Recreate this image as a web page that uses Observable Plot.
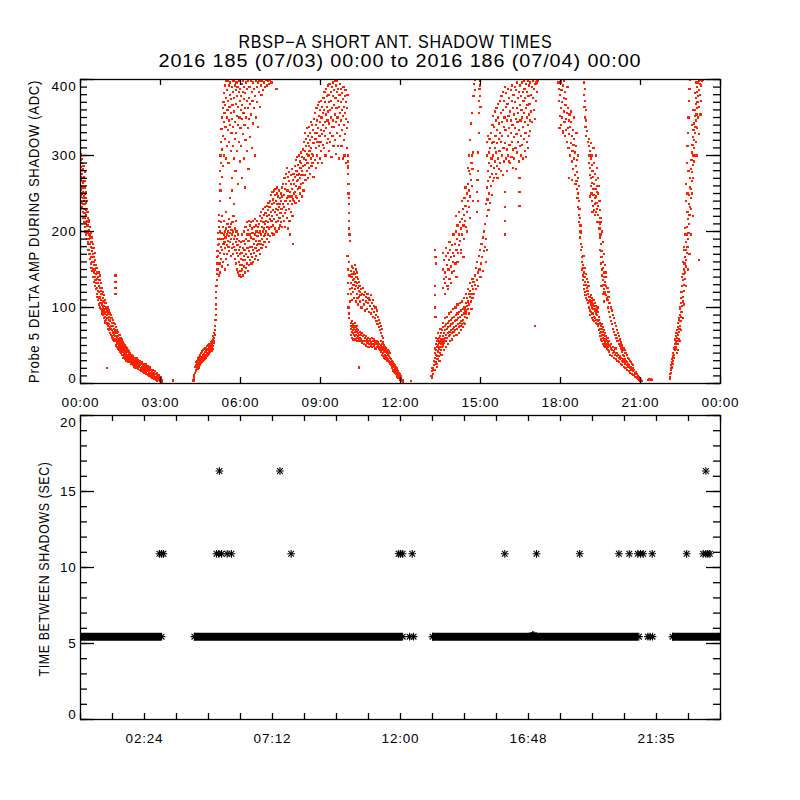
<!DOCTYPE html>
<html><head><meta charset="utf-8">
<script src="https://cdn.jsdelivr.net/npm/d3@7"></script>
<script src="https://cdn.jsdelivr.net/npm/@observablehq/plot@0.6"></script>
<style>
html,body{margin:0;padding:0;background:#fff;overflow:hidden;}
#wrap{position:relative;width:800px;height:800px;overflow:hidden;}
#wrap svg{position:absolute;left:0;}
#wrap svg text{letter-spacing:0.8px;}
</style></head><body><div id="wrap"></div>
<script>
// ---------- Title texts ----------
const titleLine1 = "RBSP\u2212A SHORT ANT. SHADOW TIMES";
const titleLine2 = "2016 185 (07/03) 00:00 to 2016 186 (07/04) 00:00";
const topYTitle = "Probe 5 DELTA AMP DURING SHADOW (ADC)";
const bottomYTitle = "TIME BETWEEN SHADOWS (SEC)";

// ---------- Top panel: delta amplitude during shadow, [hour, ADC] ----------
const ampMorningDescent = [[0.00,300],[0.00,268],[0.01,310],[0.01,285],[0.01,255],[0.02,294],[0.02,272],[0.02,246],[0.03,302],[0.03,260],[0.04,281],[0.04,238],[0.05,290],[0.05,266],[0.05,250],[0.06,276],[0.06,232],[0.07,295],[0.07,258],[0.08,244],[0.08,270],[0.09,282],[0.09,226],[0.10,252],[0.10,236],[0.10,264],
[0.11,286],[0.11,218],[0.12,246],[0.12,272],[0.13,230],[0.13,258],[0.14,212],[0.14,240],[0.15,266],[0.15,224],[0.16,250],[0.16,206],[0.17,236],[0.17,278],[0.18,218],[0.18,258],[0.19,244],[0.19,200],[0.20,228],[0.20,212],[0.21,252],[0.21,238],[0.22,196],[0.22,222],[0.23,208],[0.23,240],[0.24,190],[0.24,230],[0.25,214],[0.25,200],
[0.26,226],[0.27,186],[0.27,208],[0.28,218],[0.28,176],[0.29,198],[0.30,212],[0.30,184],[0.31,170],[0.31,202],[0.32,190],[0.33,215],[0.33,176],[0.34,196],[0.35,164],[0.35,184],[0.36,206],[0.37,170],[0.37,192],[0.38,158],[0.39,180],[0.39,198],[0.40,166],[0.41,186],[0.41,152],[0.42,174],[0.43,192],[0.43,160],[0.44,148],[0.45,178],[0.45,166],
[0.46,184],[0.47,150],[0.47,170],[0.48,140],[0.49,160],[0.49,178],[0.50,146],[0.51,166],[0.51,134],[0.52,156],[0.53,172],[0.53,140],[0.54,128],[0.55,150],[0.55,162],[0.56,136],[0.57,156],[0.58,124],[0.58,144],[0.59,132],[0.60,152],[0.61,118],[0.61,138],[0.62,126],[0.63,146],[0.64,114],[0.64,132],[0.65,122],
[0.66,140],[0.67,110],[0.68,128],[0.68,146],[0.69,104],[0.70,120],[0.71,136],[0.71,112],[0.72,100],[0.73,126],[0.74,114],[0.74,142],[0.75,106],[0.76,122],[0.77,98],[0.77,132],[0.78,110],[0.79,118],[0.80,96],[0.80,104],[0.81,126],[0.82,92],[0.83,112],[0.83,100],[0.84,120],[0.85,90],
[0.86,108],[0.87,96],[0.88,116],[0.88,86],[0.89,102],[0.90,92],[0.91,110],[0.91,82],[0.92,98],[0.93,88],[0.94,106],[0.94,80],[0.95,94],[0.96,84],[0.97,100],[0.98,20],[0.98,90],[0.99,78],[1.00,96],[1.01,86],[1.02,76],[1.03,92],[1.04,80],[1.05,72],
[1.06,88],[1.07,78],[1.08,70],[1.09,84],[1.10,74],[1.11,66],[1.12,82],[1.13,72],[1.14,64],[1.15,86],[1.16,76],[1.17,62],[1.18,70],[1.19,80],[1.20,60],[1.21,68],[1.22,76],[1.23,58],[1.24,66],[1.25,72],[1.26,56],[1.27,64],[1.28,70],[1.29,58],[1.30,62],
[1.31,142],[1.31,134],[1.31,126],[1.31,118],
[1.31,68],[1.32,56],[1.33,62],[1.34,50],[1.35,66],[1.36,54],[1.37,60],[1.38,48],[1.39,58],[1.40,52],[1.41,62],[1.42,46],[1.43,55],[1.44,50],[1.45,44],[1.46,58],[1.47,48],[1.48,42],[1.49,52],[1.50,46],[1.51,40],[1.52,50],[1.53,44],[1.54,54],[1.55,42],[1.56,48],[1.57,38],[1.58,46],[1.59,41],[1.60,50],
[1.61,44],[1.62,39],[1.63,36],[1.64,45],[1.65,40],[1.66,34],[1.67,42],[1.68,37],[1.69,46],[1.70,33],[1.71,40],[1.72,36],[1.73,43],[1.74,31],[1.75,38],[1.76,34],[1.77,41],[1.78,30],[1.79,36],[1.80,33],[1.81,39],[1.82,29],[1.83,35],[1.84,31],[1.85,38],[1.86,28],[1.87,34],[1.88,30],[1.89,36],[1.90,27],[1.91,32],[1.92,29],[1.93,34],[1.94,26],[1.95,31],[1.96,28],[1.97,33],[1.98,25],[1.99,30],[2.00,27],
[2.02,32],[2.03,24],[2.05,29],[2.06,26],[2.08,22],[2.09,30],[2.11,25],[2.12,21],[2.14,28],[2.15,23],[2.17,19],[2.18,26],[2.20,22],[2.21,28],[2.23,18],[2.24,24],[2.26,20],[2.27,26],[2.29,17],[2.30,22],[2.32,19],[2.33,25],[2.35,16],[2.36,21],[2.38,18],[2.39,23],[2.41,15],[2.42,20],[2.44,17],[2.45,22],[2.47,14],[2.48,19],[2.50,16],
[2.52,20],[2.54,13],[2.56,17],[2.58,15],[2.60,12],[2.62,18],[2.64,14],[2.66,11],[2.68,16],[2.70,12],[2.72,9],[2.74,14],[2.76,11],[2.78,8],[2.80,12],[2.82,9],[2.84,7],[2.86,11],[2.88,8],[2.90,6],[2.92,9],[2.94,5],[2.96,7],[2.98,4],[3.00,6],[3.02,3],[3.04,4],[3.06,2],[3.48,4]];

const ampMorningDescentEdge = [[1.02,100],[1.06,96],[1.10,92],[1.14,90],[1.18,86],[1.22,84],[1.26,80],[1.30,78],[1.34,74],[1.38,70],[1.42,68],[1.46,64],[1.50,60],[1.54,58],[1.58,55],[1.62,52],[1.66,50],[1.70,48],[1.74,46],[1.78,44],[1.82,42],[1.86,40],[1.90,38],[1.94,37],[1.98,36],
[1.60,34],[1.66,32],[1.72,30],[1.80,28],[1.88,26],[1.96,24],
[2.02,22],[2.06,21],[2.10,20],[2.16,19],[2.22,18],[2.28,17],[2.34,15],[2.40,14],[2.46,13],[2.52,11],[2.58,10],[2.64,9],[2.70,7],[2.76,6],[2.82,5],[2.88,4],
[2.04,34],[2.10,33],[2.16,31],[2.22,30],[2.30,28],[2.38,26],[2.46,25],[2.54,23],[2.62,21],[2.70,18],[2.78,16],[2.86,14],[2.94,11],[3.00,9]];

const ampMorningRise = [[4.24,4],[4.25,8],[4.26,6],[4.27,11],
[4.30,14],[4.31,22],[4.32,18],[4.33,28],[4.34,16],[4.35,24],[4.36,20],[4.37,30],[4.38,26],[4.39,19],[4.40,33],[4.41,23],[4.42,28],[4.43,21],[4.44,35],[4.45,26],[4.46,31],[4.47,24],[4.48,37],[4.49,29],[4.50,33],[4.51,27],[4.52,40],[4.53,30],[4.54,35],[4.55,28],[4.56,42],[4.57,32],[4.58,38],[4.59,30],[4.60,44],[4.61,34],[4.62,39],[4.63,31],[4.64,45],[4.65,36],[4.66,41],[4.67,33],[4.68,47],[4.69,37],[4.70,42],[4.71,34],[4.72,46],[4.73,39],[4.74,44],[4.75,36],[4.76,49],[4.77,40],[4.78,45],[4.79,37],[4.80,50],[4.81,42],[4.82,47],[4.83,39],[4.84,52],[4.85,44],[4.86,48],[4.87,41],[4.88,54],[4.89,45],[4.90,50],[4.91,43],[4.92,56],[4.93,47],[4.94,52],[4.95,45],[4.96,58],[4.97,49],[4.98,62],[4.99,53],[5.00,60],[5.01,66],[5.02,56],[5.03,64],[5.04,70],[5.05,76],[5.06,84],[5.07,90],[5.07,98],[5.08,104],[5.09,112],[5.09,120],[5.10,128],[5.11,136],[5.11,144],[5.12,150],[5.13,158],[5.13,166],[5.14,174],[5.15,182],[5.16,190],[5.17,198],[5.18,206],[5.19,214],[5.20,222]];

const ampUpperMorning = [[5.22,240],[5.23,262],[5.24,280],[5.25,300],[5.25,254],[5.27,318],[5.28,290],[5.29,335],[5.30,272],[5.31,350],[5.32,308],[5.33,362],[5.34,326],[5.35,286],[5.36,370],[5.37,344],[5.38,300],[5.39,382],[5.40,356],[5.41,322],[5.42,392],[5.43,366],[5.44,338],[5.45,296],[5.46,398],[5.47,376],[5.48,350],[5.49,312],[5.50,386],[5.51,360],[5.52,334],[5.53,398],[5.54,372],[5.55,290],[5.56,346],[5.57,392],[5.58,318],[5.59,364],[5.60,380],[5.61,340],[5.62,396],[5.63,306],[5.64,356],[5.65,374],[5.66,330],[5.67,390],[5.68,270],[5.69,348],[5.70,366],[5.71,312],[5.72,384],[5.73,338],[5.74,398],[5.75,296],[5.76,358],[5.77,376],[5.78,322],[5.79,392],[5.80,344],[5.81,280],[5.82,368],[5.83,386],[5.84,330],[5.85,396],[5.86,352],[5.87,306],[5.88,378],[5.89,390],[5.90,340],[5.91,262],[5.92,364],[5.93,384],[5.94,318],[5.95,398],[5.96,350],[5.97,372],[5.98,292],[5.99,388],[6.00,336],[6.01,360],[6.02,378],[6.03,312],[6.04,394],[6.05,348],[6.06,270],[6.07,366],[6.08,384],[6.09,328],[6.10,398],[6.11,356],[6.12,296],[6.13,374],[6.14,390],[6.15,340],[6.16,258],[6.17,362],[6.18,382],[6.19,320],[6.20,396],[6.22,350],[6.23,372],[6.24,306],[6.25,388],[6.27,336],[6.28,362],[6.29,398],[6.30,282],[6.32,376],[6.33,348],[6.34,390],[6.36,324],[6.37,368],[6.38,398],[6.40,354],[6.42,384],[6.43,310],[6.45,372],[6.46,396],[6.48,342],[6.50,388],[6.52,362],[6.53,300],[6.55,378],[6.57,398],[6.59,350],[6.61,390],[6.63,370],[6.65,396],[6.67,338],[6.69,384],[6.71,398],[6.73,364],[6.76,392],[6.79,380],[6.82,398],[6.85,386],[6.88,396],[6.92,390],[6.96,399],[7.00,392],[7.04,398],[7.08,394],[7.12,399],[7.16,396],[7.35,388]];

const ampMidMorning = [[5.15,150],[5.17,168],[5.18,142],[5.20,184],[5.21,158],[5.22,200],[5.23,172],[5.24,146],[5.25,190],[5.26,212],[5.27,164],[5.28,180],[5.29,198],[5.30,154],[5.31,220],[5.32,176],[5.33,190],[5.34,206],[5.35,160],[5.36,184],[5.37,196],[5.38,170],[5.39,214],[5.40,186],[5.41,150],[5.42,200],[5.43,178],[5.44,192],[5.45,226],[5.46,164],[5.47,204],[5.48,182],[5.49,196],[5.50,170],[5.51,210],[5.52,188],[5.53,156],[5.54,200],[5.55,180],[5.56,194],[5.57,216],[5.58,174],[5.59,206],[5.60,186],[5.61,198],[5.62,244],[5.63,168],[5.64,210],[5.65,190],[5.66,202],[5.67,178],[5.68,254],[5.69,196],[5.70,212],[5.71,184],[5.72,200],[5.73,170],[5.74,220],[5.75,190],[5.76,236],[5.77,180],[5.78,204],[5.79,164],[5.80,194],[5.81,176],[5.82,214],[5.83,186],[5.84,158],[5.85,200],[5.86,172],[5.87,190],[5.88,150],[5.89,182],[5.90,168],[5.91,196],[5.92,146],[5.93,176],[5.94,160],[5.95,188],[5.96,142],[5.97,170],[5.98,156],[5.99,180],[6.00,148],[6.01,164],[6.02,186],[6.03,140],[6.04,172],[6.05,156],[6.06,196],[6.07,150],[6.08,178],[6.09,162],[6.10,142],[6.11,188],[6.12,168],[6.13,154],[6.14,200],[6.15,176],[6.16,146],[6.17,184],[6.18,162],[6.19,206],[6.20,152],[6.21,190],[6.22,170],[6.23,212],[6.24,158],[6.25,196],[6.26,178],[6.27,148],[6.28,202],[6.29,166],[6.30,188],[6.31,214],[6.32,174],[6.33,156],[6.34,196],[6.35,208],[6.36,180],[6.37,162]];

const ampDayRise = [[6.38,212],[6.39,170],[6.40,192],[6.41,158],[6.42,204],[6.43,180],[6.44,166],[6.45,198],[6.46,214],[6.47,176],[6.48,160],[6.49,190],[6.50,206],[6.51,172],[6.52,184],[6.53,216],[6.54,164],[6.55,196],[6.56,178],[6.57,208],[6.58,188],[6.59,168],[6.60,200],[6.61,182],[6.62,214],[6.63,174],[6.64,194],[6.65,206],[6.66,184],[6.67,162],[6.68,198],[6.69,176],[6.70,210],[6.71,188],[6.72,220],[6.73,170],[6.74,200],
[6.75,184],[6.76,214],[6.77,196],[6.78,226],[6.79,178],[6.80,206],[6.81,190],[6.82,218],[6.83,200],[6.84,230],[6.85,182],[6.86,212],[6.87,194],[6.88,222],[6.89,204],[6.90,186],[6.91,232],[6.92,210],[6.93,196],[6.94,224],[6.95,180],[6.96,214],[6.97,200],[6.98,234],[6.99,190],[7.00,220],[7.01,206],[7.02,228],[7.03,196],[7.04,212],[7.05,238],[7.06,186],[7.07,222],[7.08,204],[7.09,232],[7.10,216],[7.11,194],[7.12,240],
[7.13,206],[7.14,226],[7.15,248],[7.16,214],[7.17,198],[7.18,236],[7.19,220],[7.20,252],[7.21,208],[7.22,242],[7.23,228],[7.24,196],[7.25,254],[7.26,216],[7.27,238],[7.28,204],[7.29,248],[7.30,226],[7.31,256],[7.32,212],[7.33,240],[7.34,230],[7.35,200],[7.36,250],[7.37,222],[7.38,258],[7.39,236],[7.40,214],[7.41,246],[7.42,228],[7.43,204],[7.44,254],[7.45,232],[7.46,218],[7.47,244],[7.48,208],[7.49,236],[7.50,224],[7.51,250],[7.52,212],[7.53,240],[7.54,230],[7.55,258],[7.56,206],[7.57,246],[7.58,220],[7.59,236],[7.60,262],
[7.62,214],[7.63,248],[7.64,232],[7.65,270],[7.66,224],[7.67,256],[7.68,206],[7.69,240],[7.70,276],[7.71,228],[7.72,262],[7.73,244],[7.74,284],[7.75,218],[7.76,254],[7.77,236],[7.78,272],[7.79,204],[7.80,246],[7.81,266],[7.82,230],[7.83,278],[7.84,214],[7.85,252],[7.86,240],[7.87,196],[7.88,262],[7.89,226],[7.90,274],[7.91,246],[7.92,236],[7.93,282],[7.94,256],[7.95,220],[7.96,268],[7.97,242],[7.98,184],[7.99,276],[8.00,250],
[8.01,262],[8.02,240],[8.03,286],[8.04,252],[8.05,272],[8.06,238],[8.07,294],[8.08,260],[8.09,246],[8.10,280],[8.11,266],[8.12,298],[8.13,244],[8.14,274],[8.15,256],[8.16,288],[8.17,268],[8.18,240],[8.19,300],[8.20,276],[8.21,258],[8.22,292],[8.23,270],[8.24,250],[8.25,284],[8.26,304],[8.27,262],[8.28,290],[8.29,274],[8.30,246],[8.31,298],[8.32,280],[8.33,264],[8.34,308],[8.35,286],[8.36,254],
[8.38,296],[8.39,318],[8.40,274],[8.41,306],[8.42,288],[8.43,330],[8.44,268],[8.45,312],[8.46,294],[8.47,322],[8.48,280],[8.49,302],[8.50,336],[8.51,290],[8.52,316],[8.53,270],[8.54,326],[8.55,300],[8.56,312],[8.57,284],[8.58,338],[8.59,306],[8.60,320],[8.61,276],[8.62,330],[8.63,296],[8.64,344],[8.65,310],[8.66,286],[8.67,324],[8.68,302],[8.69,340],[8.70,290],[8.71,316],[8.72,334],[8.73,300],[8.74,272],
[8.76,348],[8.77,316],[8.78,330],[8.79,294],[8.80,356],[8.81,322],[8.82,340],[8.83,284],[8.84,310],[8.85,362],[8.86,330],[8.87,300],[8.88,346],[8.89,318],[8.90,366],[8.91,290],[8.92,336],[8.93,352],[8.94,312],[8.95,370],[8.96,326],[8.97,296],[8.98,344],[8.99,360],[9.00,318],[9.01,334],[9.02,372],[9.03,306],[9.04,350],[9.05,328],[9.06,364],[9.07,290],[9.08,340],[9.09,356],[9.10,314],[9.11,376],[9.12,332],
[9.13,360],[9.14,310],[9.15,384],[9.16,344],[9.17,326],[9.18,370],[9.19,300],[9.20,354],[9.21,388],[9.22,336],[9.23,364],[9.24,316],[9.25,378],[9.26,346],[9.27,392],[9.28,322],[9.29,358],[9.30,380],[9.31,306],[9.32,342],[9.33,370],[9.34,394],[9.35,330],[9.36,360],[9.37,318],[9.38,384],[9.39,350],[9.40,372],[9.41,298],[9.42,338],[9.43,390],[9.44,362],[9.45,326],[9.46,378],[9.47,346],[9.48,396],[9.49,312],
[9.50,366],[9.51,386],[9.52,338],[9.53,398],[9.54,354],[9.55,320],[9.56,376],[9.57,344],[9.58,392],[9.59,302],[9.60,362],[9.61,384],[9.62,330],[9.63,398],[9.64,350],[9.65,372],[9.66,312],[9.67,388],[9.68,340],[9.69,364],[9.70,296],[9.71,380],[9.72,356],[9.73,394],[9.74,326],
[9.76,370],[9.77,346],[9.78,388],[9.79,312],[9.80,360],[9.81,382],[9.82,334],[9.83,296],[9.84,374],[9.85,352],[9.86,390],[9.87,320],[9.88,364],[9.89,340],[9.90,300],[9.91,378],[9.92,356],[9.93,328],[9.94,386],[9.95,348],[9.96,290],[9.97,370],[9.98,336],[9.99,362],[10.00,310],[10.01,380],[10.02,344],[10.03,284],
[10.02,300],[10.03,292],[10.04,276],[10.05,262],[10.05,250],[10.06,236],[10.07,224],[10.07,214],[10.08,204],[10.09,196],[10.10,188],[10.04,286],[10.06,244]];

const ampNoonDrop = [[10.01,168],[10.02,150],[10.03,132],[10.04,118],[10.05,100],[10.06,92],[10.07,86],[10.08,160],[10.09,142],[10.10,124],[10.11,108],
[10.13,148],[10.14,132],[10.15,118],[10.16,140],[10.17,154],[10.18,126],[10.19,110],[10.20,144],[10.21,136],[10.22,152],[10.23,120],[10.24,130],[10.25,146],[10.26,112],[10.27,138],[10.28,156],[10.29,124],[10.30,144],[10.31,134],[10.32,108],[10.33,150],[10.34,128],[10.35,140],[10.36,118],[10.37,132],[10.38,146],[10.39,112],[10.40,126],[10.41,138],[10.42,104],[10.43,122],[10.44,134],[10.45,114],[10.46,128],[10.47,108],[10.48,120],[10.50,116],[10.52,124],[10.54,100],[10.56,118],[10.58,110],[10.60,126],[10.62,104],[10.64,116],[10.66,96],[10.68,120],[10.70,108],[10.72,114],[10.74,98],[10.76,118],[10.78,106],[10.80,112],[10.82,94],[10.84,110],[10.86,102],[10.88,116],[10.90,92],[10.92,106],[10.94,98],[10.96,110],[10.98,88],[11.00,102],[11.02,94],[11.04,86],[11.06,100],[11.08,90],[11.10,82],[11.12,96],[11.14,78],[11.16,88],[11.18,74],[11.20,84],[11.22,70],[11.24,80],[11.26,66],[11.28,76],[11.30,62],[11.32,72],[11.34,60],
[10.13,80],[10.14,72],[10.15,64],[10.16,76],[10.17,82],[10.18,68],[10.19,60],[10.20,74],[10.21,78],[10.22,66],[10.23,70],[10.24,58],[10.25,76],[10.26,64],[10.27,72],[10.28,80],[10.29,62],[10.30,68],[10.31,74],[10.32,58],[10.33,70],[10.34,64],[10.35,76],[10.36,60],[10.37,68],[10.38,72],[10.39,56],[10.40,66],[10.41,62],[10.42,70],[10.43,58],[10.44,21],[10.45,64],[10.46,60],[10.47,68],[10.48,56],[10.50,64],[10.52,58],[10.54,66],[10.56,54],[10.58,62],[10.60,56],[10.62,64],[10.64,52],[10.66,60],[10.68,56],[10.70,62],[10.72,50],[10.74,58],[10.76,54],[10.78,60],[10.80,48],[10.82,56],[10.84,52],[10.86,58],[10.88,50],[10.90,54],[10.92,60],[10.94,48],[10.96,56],[10.98,52],[11.00,58],[11.02,50],[11.04,54],[11.06,46],[11.08,52],[11.10,56],[11.12,48],[11.14,54],[11.16,50],[11.18,46],[11.20,52],[11.22,48],[11.24,44],
[11.26,50],[11.27,42],[11.28,56],[11.29,46],[11.30,38],[11.31,52],[11.32,44],[11.33,48],[11.34,40],[11.35,54],[11.36,36],[11.37,46],[11.38,42],[11.39,50],[11.40,34],[11.41,44],[11.42,38],[11.43,48],[11.44,32],[11.45,42],[11.46,36],[11.47,46],[11.48,30],[11.49,40],[11.50,34],[11.51,44],[11.52,30],[11.53,38],[11.54,32],[11.55,42],[11.56,28],[11.57,36],[11.58,30],[11.59,40],[11.60,26],[11.61,34],[11.62,28],
[11.64,32],[11.65,24],[11.66,28],[11.67,22],[11.68,30],[11.69,20],[11.70,26],[11.71,18],[11.72,24],[11.73,28],[11.74,16],[11.75,22],[11.76,26],[11.77,15],[11.78,20],[11.79,24],[11.80,14],[11.81,18],[11.82,22],[11.83,12],[11.84,17],[11.85,20],[11.86,11],[11.87,15],[11.88,18],[11.89,9],[11.90,13],[11.91,16],[11.92,8],[11.93,12],[11.94,14],[11.95,7],[11.96,10],[11.97,12],[11.98,5],[11.99,8],[12.00,10],[12.01,4],[12.02,6],[12.03,8],[12.05,3],[12.07,5],[12.09,2],[12.10,4],[12.40,3]];

const ampAfternoonRise = [[13.16,10],[13.18,16],[13.19,8],[13.20,20],[13.22,12],[13.24,18],
[13.26,30],[13.27,24],[13.28,40],[13.29,34],[13.30,46],[13.31,28],[13.32,52],[13.33,38],[13.34,44],[13.35,26],[13.36,56],[13.37,36],[13.38,48],[13.39,32],[13.40,58],[13.41,42],[13.42,50],[13.43,36],[13.44,60],[13.45,46],[13.46,54],[13.47,40],[13.48,62],[13.49,48],[13.50,56],[13.51,44],[13.52,66],[13.53,52],[13.54,58],[13.55,48],[13.56,70],[13.57,54],[13.58,62],[13.59,50],[13.60,74],[13.62,58],[13.63,66],[13.64,54],[13.66,76],[13.67,60],[13.68,70],[13.70,56],[13.71,78],[13.72,64],[13.74,72],[13.75,60],[13.77,80],[13.78,66],[13.79,74],[13.81,62],[13.82,82],[13.84,68],[13.85,76],[13.87,64],[13.88,84],[13.90,70],[13.91,78],[13.93,66],[13.94,86],[13.96,72],[13.97,80],[13.99,68],[14.00,88],[14.02,74],[14.04,82],[14.05,70],[14.07,90],[14.09,76],[14.10,84],[14.12,72],[14.14,92],[14.15,78],[14.17,86],[14.19,74],[14.20,94],[14.22,80],[14.24,88],[14.25,76],[14.27,96],[14.29,82],[14.30,90],[14.32,78],[14.34,98],[14.35,84],[14.37,92],[14.39,80],[14.40,100],[14.42,88],[14.44,96],[14.45,106],[14.47,92],[14.49,102],[14.50,112],[14.52,98],[14.54,108],[14.56,118],[14.58,104],[14.60,114],[14.62,122],[14.64,108],[14.66,118],[14.68,128],[14.70,112],[14.72,124],[14.74,134],
[14.76,118],[14.78,130],[14.80,142],[14.82,124],[14.84,152],[14.86,136],[14.88,160],[14.90,146],[14.92,128],[14.94,168],[14.96,150],[14.98,176],[15.00,140],[15.02,158],[15.04,184],[15.06,166],[15.08,192],[15.10,148],[15.12,174],[15.14,200],[15.16,180],[15.18,210],[15.20,160],[15.22,190],[15.24,220],[15.25,176],
[14.86,226],[14.88,252],[14.90,280],[14.92,304],[14.93,330],[14.94,356],[14.95,372],[14.96,388],[14.97,398],[14.98,392],[14.99,378],[15.00,364],[14.91,240],[14.89,268]];

const ampAfternoonRiseEdge = [[13.30,18],[13.34,60],[13.38,22],[13.42,66],[13.46,30],[13.50,72],[13.54,38],[13.58,80],[13.62,44],[13.66,86],[13.70,48],[13.74,88],[13.78,52],[13.82,92],[13.86,56],[13.90,94],[13.94,58],[13.98,98],[14.02,62],[14.06,100],[14.10,64],[14.14,104],[14.18,66],[14.22,106],[14.26,70],[14.30,108],[14.34,74],[14.38,112],[14.42,78],[14.46,118],[14.50,86],[14.54,124],[14.58,92],[14.62,132],[14.66,98],[14.70,138]];

const ampAfternoonUpper = [[13.30,176],[13.31,166],[13.32,158],[13.28,128],[13.29,116],[13.30,100],[13.31,88],
[13.58,126],[13.60,150],[13.62,138],[13.64,162],[13.66,132],[13.68,146],[13.70,168],[13.72,140],[13.74,156],[13.76,128],[13.78,172],[13.80,150],[13.82,162],[13.84,138],[13.86,176],[13.88,154],[13.90,166],[13.92,146],[13.94,182],[13.96,160],[13.98,172],[14.00,196],[14.02,168],[14.04,184],[14.06,158],[14.08,200],[14.10,176],[14.12,190],[14.14,208],[14.16,172],[14.18,196],[14.20,182],[14.22,212],[14.24,188],[14.26,204],[14.28,176],[14.30,216],[14.32,196],[14.34,230],[14.36,208],[14.38,222],[14.40,244],[14.42,214],[14.44,234],[14.46,206],[14.48,250],[14.50,226],[14.52,240],[14.54,262],[14.56,232],[14.58,254],[14.60,276],[14.62,246],[14.64,268],[14.66,290],[14.68,260],[14.70,282],[14.60,320],[14.64,342],[14.68,356],[14.72,304],[14.74,378],[14.76,394],[14.78,400],[14.80,386]];

const ampAfternoonUpperEdge = [[13.60,172],[13.66,118],[13.72,178],[13.78,124],[13.84,186],[13.90,132],[13.96,196],[14.02,148],[14.08,220],[14.14,160],[14.20,226],[14.26,172],[14.32,240],[14.38,190],[14.44,258],[14.50,200],[14.56,280],[14.62,218],[14.68,300],[14.72,240],[14.10,140],[14.36,166],[14.56,300],[14.52,284]];

const ampAfternoonBlob = [[15.22,236],[15.23,300],[15.24,258],[15.25,318],[15.26,242],[15.27,280],[15.28,326],[15.29,266],[15.30,228],[15.31,304],[15.32,250],[15.33,290],[15.34,322],[15.35,272],[15.36,238],[15.37,310],[15.38,286],[15.39,260],[15.40,330],[15.41,296],[15.42,248],[15.43,316],[15.44,276],[15.45,340],
[15.46,300],[15.47,266],[15.48,352],[15.49,318],[15.50,284],[15.51,338],[15.52,270],[15.53,310],[15.54,358],[15.55,292],[15.56,326],[15.57,276],[15.58,346],[15.59,304],[15.60,362],[15.61,286],[15.62,334],[15.63,316],[15.64,270],[15.65,350],[15.66,296],[15.67,368],[15.68,322],[15.69,282],[15.70,342],[15.71,306],[15.72,372],[15.73,290],[15.74,330],
[15.76,356],[15.77,280],[15.78,318],[15.79,378],[15.80,300],[15.81,344],[15.82,326],[15.83,384],[15.84,274],[15.85,360],[15.86,310],[15.87,338],[15.88,292],[15.89,372],[15.90,350],[15.91,316],[15.92,390],[15.93,252],[15.93,232],[15.93,214],[15.93,196],[15.94,334],[15.95,296],[15.96,364],[15.97,382],[15.98,308],[15.99,346],[16.00,280],[16.01,368],[16.02,326],[16.03,388],[16.04,300],[16.05,352],[16.06,336],[16.07,292],[16.08,376],[16.09,314],
[16.11,358],[16.12,290],[16.13,386],[16.14,330],[16.15,346],[16.16,298],[16.17,372],[16.18,318],[16.19,392],[16.20,340],[16.21,284],[16.22,362],[16.23,308],[16.24,380],[16.25,324],[16.26,354],[16.27,296],[16.28,390],[16.29,336],[16.30,370],[16.31,310],[16.32,348],[16.33,386],[16.34,282],[16.35,328],[16.36,362],[16.37,396],[16.38,304],[16.39,344],[16.40,376],[16.41,318],[16.42,356],[16.43,292],[16.44,384],[16.45,334],[16.46,270],[16.46,252],[16.46,234],[16.47,366],[16.48,312],[16.49,392],
[16.50,346],[16.51,300],[16.52,378],[16.53,326],[16.54,360],[16.55,396],[16.56,314],[16.57,350],[16.58,384],[16.59,296],[16.60,338],[16.61,372],[16.62,398],[16.63,322],[16.64,356],[16.65,388],[16.66,306],[16.67,344],[16.68,376],[16.69,330],[16.70,394],[16.71,362],[16.72,298],[16.73,350],[16.74,384],[16.75,318],[16.76,366],[16.77,398],[16.78,340],[16.79,310],[16.80,378],[16.81,354],[16.82,392],[16.83,326],[16.84,368],[16.85,346],[16.86,396],[16.87,332],[16.88,380],
[16.90,358],[16.92,390],[16.94,344],[16.96,376],[16.98,398],[17.00,360],[17.02,388],[17.03,76],[17.04,348],[17.06,394],[17.08,372],[17.10,396],[17.12,384],[17.14,398]];

const ampEveningDescentA = [[17.92,396],[17.94,372],[17.95,388],[17.97,352],[17.98,380],[18.00,396],[18.01,362],[18.03,340],[18.04,386],[18.06,370],[18.07,350],[18.09,392],[18.10,332],[18.12,376],[18.13,358],[18.15,344],[18.16,384],[18.18,326],[18.19,366],[18.21,348],[18.22,374],[18.24,318],[18.25,356],[18.27,336],[18.28,362],[18.30,310],[18.31,346],[18.33,328],[18.34,354],[18.36,300],[18.37,338],[18.39,316],[18.40,344],[18.42,292],[18.43,326],[18.45,306],[18.46,334],[18.48,282],[18.49,314],[18.51,296],[18.52,322],[18.54,274],[18.55,304],[18.57,286],[18.58,312],[18.60,266],[18.61,294],[18.62,278],
[18.63,256],[18.64,244],[18.65,270],[18.66,232],[18.67,250],[18.68,222],[18.69,240],[18.70,212],[18.71,230],[18.72,200],[18.73,218],[18.74,192],[18.75,208],[18.76,184],[18.77,198],[18.78,176],
[18.80,160],[18.81,150],[18.82,166],[18.83,142],[18.84,156],[18.85,136],[18.86,152],[18.87,130],[18.88,146],[18.89,124],[18.90,140],[18.91,120],[18.92,134],[18.93,152],[18.94,116],[18.95,130],[18.96,144],[18.97,112],[18.98,126],[18.99,138],[19.00,110],[19.01,122],[19.02,134],[19.03,106],[19.04,118],[19.05,128],
[19.07,108],[19.08,100],[19.09,114],[19.10,96],[19.11,110],[19.12,90],[19.13,104],[19.14,116],[19.15,94],[19.16,108],[19.17,86],[19.18,100],[19.19,112],[19.20,92],[19.21,104],[19.22,84],[19.23,98],[19.24,110],[19.25,88],[19.26,102],[19.27,82],[19.28,96],[19.29,106],[19.30,86],[19.31,98],[19.32,80],[19.33,92],[19.34,102],[19.35,84],[19.36,96],[19.37,78],[19.38,90],[19.39,100],[19.40,82],[19.41,94],[19.42,76],[19.43,88],[19.44,70],[19.45,84],[19.46,78],[19.47,66],[19.48,80],[19.49,72],
[19.50,62],[19.51,76],[19.52,68],[19.53,58],[19.54,72],[19.55,64],[19.56,78],[19.57,56],[19.58,68],[19.59,60],[19.60,74],[19.61,52],[19.62,64],[19.63,58],[19.64,70],[19.65,50],[19.66,62],[19.67,54],[19.68,66],[19.69,48],[19.70,58],[19.71,52],[19.72,62],[19.73,46],[19.74,56],[19.75,50],[19.76,60],[19.77,44],[19.78,54],[19.79,48],[19.80,56],
[19.82,42],[19.84,50],[19.86,38],[19.88,46],[19.90,52],[19.92,36],[19.94,44],[19.96,40],[19.98,48],[20.00,34],[20.02,42],[20.04,38],[20.06,46],[20.08,32],[20.10,40],[20.12,36],[20.14,30],[20.16,38],[20.18,34],[20.20,28],[20.22,36],[20.24,32],[20.26,26],[20.28,34],[20.30,30],
[20.32,24],[20.34,32],[20.36,28],[20.38,22],[20.40,30],[20.42,26],[20.44,20],[20.46,28],[20.48,24],[20.50,18],[20.52,26],[20.54,22],[20.56,16],[20.58,24],[20.60,20],[20.62,14],[20.64,22],[20.66,18],[20.68,12],[20.70,20],[20.72,16],[20.74,11],[20.76,18],[20.78,14],[20.80,9],
[20.82,15],[20.84,12],[20.86,8],[20.88,13],[20.90,10],[20.92,6],[20.94,9],[20.96,5],[20.98,7],[21.00,4],[21.02,5],[21.04,3]];

const ampEveningDescentAEdge = [[17.96,336],[18.02,400],[18.08,330],[18.14,398],[18.20,334],[18.26,390],[18.32,270],[18.38,358],[18.44,268],[18.50,350],[18.56,262],[18.60,330],[18.66,300],[18.70,260],[18.74,230],[18.78,200],[18.82,180],[18.86,168]];

const ampEveningDescentB = [[18.88,396],[18.89,380],[18.90,364],[18.91,388],[18.92,350],[18.93,372],[18.94,338],[18.95,360],[18.96,326],[18.97,346],[19.00,332],[19.02,318],
[19.07,312],[19.08,290],[19.09,300],[19.10,274],[19.11,306],[19.12,284],[19.13,260],[19.14,296],[19.15,270],[19.16,250],[19.17,288],[19.18,264],[19.19,240],[19.20,280],[19.21,256],[19.22,234],[19.23,272],[19.24,248],[19.25,290],[19.26,228],[19.27,262],[19.28,244],[19.29,276],[19.30,236],[19.31,256],[19.32,226],[19.33,268],[19.34,246],[19.35,238],[19.36,260],[19.37,230],[19.38,252],[19.40,234],[19.42,222],[19.44,212],[19.46,204],[19.47,192],
[19.48,210],[19.49,176],[19.50,196],[19.51,166],[19.52,184],[19.53,158],[19.54,174],[19.55,150],[19.56,166],[19.57,142],[19.58,160],[19.59,136],[19.60,152],[19.61,130],[19.62,146],[19.63,124],[19.64,140],[19.65,120],[19.66,134],[19.67,118],[19.68,130],[19.69,146],[19.70,116],[19.72,128],[19.74,112],
[19.76,110],[19.78,100],[19.80,114],[19.82,94],[19.84,106],[19.86,88],[19.88,100],[19.90,82],[19.92,96],[19.94,78],[19.96,90],[19.98,72],[20.00,86],[20.02,68],[20.04,80],[20.06,64],[20.08,76],[20.10,60],[20.12,70],[20.14,56],[20.16,66],[20.18,52],[20.20,62],[20.22,50],
[20.24,58],[20.26,46],[20.28,54],[20.30,42],[20.32,50],[20.34,38],[20.36,46],[20.38,36],[20.40,44],[20.42,32],[20.44,40],[20.46,30],[20.48,38],[20.50,28],[20.52,34],[20.54,26],[20.56,32],[20.58,24],[20.60,30],[20.62,22],[20.64,28],[20.66,20],[20.68,26],[20.70,18],[20.72,24]];

const ampEveningDescentBEdge = [[19.08,322],[19.10,246],[19.14,316],[19.18,300],[19.20,226],[19.24,310],[19.28,222],[19.32,300],[19.36,284],[19.40,270],[19.44,260],[19.46,240],[19.48,228],[19.50,218],[19.42,250],[19.38,212],[19.52,212],[19.56,200],[19.60,186],[19.64,170],[19.68,156],[19.72,140],[19.76,126],[19.80,120],[19.54,128],[19.58,118],[19.62,108]];

const ampNight = [[21.30,5],[21.33,6],[21.36,5],[21.39,6],[21.42,5],
[22.10,6],[22.11,12],[22.12,9],[22.13,18],[22.14,14],[22.15,24],[22.16,20],[22.17,28],[22.18,22],[22.19,32],[22.20,26],[22.21,36],[22.22,30],[22.23,40],[22.24,34],
[22.26,46],[22.27,38],[22.28,52],[22.29,44],[22.30,58],[22.31,48],[22.32,62],[22.33,54],[22.34,46],[22.35,66],[22.36,56],[22.37,70],[22.38,60],[22.39,52],[22.40,74],[22.41,64],[22.42,80],[22.43,68],[22.44,58],[22.45,84],[22.46,72],[22.47,90],[22.48,76],[22.49,98],[22.50,82],[22.51,106],[22.52,88],[22.53,112],[22.54,94],[22.55,120],[22.56,102],[22.57,128],[22.58,108],[22.59,136],[22.60,114],[22.61,144],[22.62,122],[22.63,150],[22.64,130],[22.65,158],[22.66,138],[22.67,166],[22.68,146],[22.69,176],[22.70,154],[22.71,186],[22.72,162],[22.73,196],[22.74,172],[22.75,206],[22.76,180],[22.77,216],[22.78,190],[22.79,226],[22.80,198],[22.81,236],[22.82,210],[22.83,248],[22.84,222],[22.85,258],[22.86,232],[22.87,270],[22.88,244],[22.89,282],[22.90,256],[22.91,294],[22.92,266],[22.93,304],[22.94,278],[22.95,314],[22.96,288],[22.97,324],[22.98,300],[22.99,334],[23.00,310],[23.01,342],[23.02,320],[23.03,352],[23.04,330],[23.05,360],[23.06,338],[23.07,368],[23.08,346],[23.09,376],[23.10,354],[23.11,384],[23.12,362],[23.13,390],[23.14,370],[23.15,396],[23.16,378],[23.18,398],[23.20,162],[23.20,386],[23.22,394],[23.24,399],[23.27,392],[23.30,398],[23.33,400]];

const ampNightEdge = [[22.36,40],[22.40,44],[22.46,56],[22.52,70],[22.58,86],[22.64,104],[22.70,128],[22.78,150],[22.84,170],[22.88,196],[22.96,220],[22.62,180],[22.66,205],[22.70,240],[22.72,262],[22.74,290],[22.76,312],[22.78,330],[22.80,350],[22.82,372],[22.84,388],[22.86,400],[22.90,230],[22.94,250],[22.98,270],[23.02,292],[23.05,300],[23.08,318],[23.12,336],[23.16,350],[23.20,364],[23.24,380],[23.28,372],[23.25,354],[23.18,328],[23.10,300],[22.56,140],[22.60,160],[22.68,196],[22.76,250],[22.80,280],[22.92,340],[22.98,360],[23.04,382],[23.08,396],[22.74,226],[22.64,176],[22.54,120],[22.48,100],[22.44,86]];

// ---------- Top panel axis ----------
const topXTicks = [0,3,6,9,12,15,18,21,24];
const topXLabels = ["00:00","03:00","06:00","09:00","12:00","15:00","18:00","21:00","00:00"];
const topYMajor = [0,100,200,300,400];

// ---------- Bottom panel: time between shadows (s) ----------
const spinHalfPeriod = 5.45;
const bandStart = [0, 4.27, 13.2, 22.2];
const bandEnd = [3.04, 12.08, 20.94, 24];
const bandSpots = [[12.34,5.45],[12.49,5.45],[21.28,5.45],[21.36,5.45],[21.45,5.45],[16.95,5.55],[17.0,5.55]];
const gapTimes = [2.96,3.04,3.11,5.1,5.19,5.29,5.5,5.66,7.9,11.93,12.0,12.08,12.44,15.91,17.1,18.72,20.19,20.58,20.9,21.0,21.1,21.44,22.73,23.35,23.45,23.52,23.6];
const gapValue = 10.9;
const longGapTimes = [5.21,7.48,23.45];
const longGapValue = 16.35;
const bottomXMajor = [2.4,7.2,12,16.8,21.6];
const bottomXLabels = ["02:24","07:12","12:00","16:48","21:35"];
const bottomXMinor = [0,1.2,2.4,3.6,4.8,6,7.2,8.4,9.6,10.8,12,13.2,14.4,15.6,16.8,18,19.2,20.4,21.6,22.8,24];
const bottomYMajor = [0,5,10,15,20];

// ---------- build ----------
const toRows = arr => arr.map(([t, v]) => ({t, v}));
const ampPoints = [ampMorningDescent, ampMorningDescentEdge, ampMorningRise, ampUpperMorning, ampMidMorning, ampDayRise,
  ampNoonDrop, ampAfternoonRise, ampAfternoonRiseEdge, ampAfternoonUpper, ampAfternoonUpperEdge, ampAfternoonBlob,
  ampEveningDescentA, ampEveningDescentAEdge, ampEveningDescentB, ampEveningDescentBEdge, ampNight, ampNightEdge].flatMap(toRows);

const FW = 640, FH = 304, SW = 1.3;
const black = "black";
const font = "Liberation Sans";

function tickMarks(xTicks, yMajor, yMinor) {
  return [
    Plot.ruleX(xTicks, {insetTop: FH - 6, stroke: black, strokeWidth: SW}),
    Plot.ruleX(xTicks, {insetBottom: FH - 6, stroke: black, strokeWidth: SW}),
    Plot.ruleY(yMinor, {insetRight: FW - 7, stroke: black, strokeWidth: SW}),
    Plot.ruleY(yMinor, {insetLeft: FW - 7, stroke: black, strokeWidth: SW}),
    Plot.ruleY(yMajor, {insetRight: FW - 14, stroke: black, strokeWidth: SW}),
    Plot.ruleY(yMajor, {insetLeft: FW - 14, stroke: black, strokeWidth: SW})
  ];
}
function yLabels(vals) {
  const lo = vals[0], hi = vals[vals.length - 1];
  const common = {tickSize: 0, tickPadding: 4, label: null, fontSize: 13.5};
  return [
    Plot.axisY(vals.slice(1, -1), common),
    Plot.axisY([hi], {...common, dy: 7}),
    Plot.axisY([lo], {...common, dy: -5})
  ];
}
function asterisk(rows) {
  return [
    Plot.dot(rows, {x: "t", y: "v", symbol: "plus", r: 2.6, stroke: black, strokeWidth: 1.1, clip: true}),
    Plot.dot(rows, {x: "t", y: "v", symbol: "times", r: 2.7, stroke: black, strokeWidth: 1.1, clip: true})
  ];
}

const topChart = Plot.plot({
  width: 800, height: 420,
  marginLeft: 80, marginRight: 80, marginTop: 79, marginBottom: 37,
  x: {domain: [0, 24]},
  y: {domain: [0, 400]},
  style: {fontFamily: font, fontSize: "13.5px", color: "black", background: "none"},
  marks: [
    Plot.dot(ampPoints, {x: "t", y: "v", symbol: "square", r: 1.25, fill: "#ff2200", clip: true, shapeRendering: "crispEdges"}),
    Plot.frame({stroke: black, strokeWidth: SW}),
    ...tickMarks(topXTicks, topYMajor, d3.range(0, 401, 10)),
    Plot.axisX(topXTicks, {tickSize: 0, tickPadding: 14, label: null, fontSize: 13.5,
      tickFormat: d => topXLabels[topXTicks.indexOf(d)]}),
    ...yLabels(topYMajor)
  ]
});
topChart.style.top = "0px";

const bandRows = bandStart.map((s, i) => ({start: s, end: bandEnd[i], v: spinHalfPeriod}));
const bandEnds = bandRows.flatMap(d => [{t: d.start, v: d.v}, {t: d.end, v: d.v}]);
const gapRows = [
  ...toRows(bandSpots),
  ...gapTimes.map(t => ({t, v: gapValue})),
  ...longGapTimes.map(t => ({t, v: longGapValue})),
  ...bandEnds
];

const bottomChart = Plot.plot({
  width: 800, height: 420,
  marginLeft: 80, marginRight: 80, marginTop: 35, marginBottom: 81,
  x: {domain: [0, 24]},
  y: {domain: [0, 20]},
  style: {fontFamily: font, fontSize: "13.5px", color: "black", background: "none"},
  marks: [
    Plot.ruleY(bandRows, {x1: "start", x2: "end", y: "v", stroke: black, strokeWidth: 8, clip: true}),
    ...asterisk(gapRows),
    Plot.frame({stroke: black, strokeWidth: SW}),
    ...tickMarks(bottomXMinor, bottomYMajor, d3.range(0, 21, 1)),
    Plot.axisX(bottomXMajor, {tickSize: 0, tickPadding: 14, label: null, fontSize: 13.5,
      tickFormat: d => bottomXLabels[bottomXMajor.indexOf(d)]}),
    ...yLabels(bottomYMajor)
  ]
});
bottomChart.style.top = "380px";

const wrap = document.getElementById("wrap");
wrap.appendChild(topChart);
wrap.appendChild(bottomChart);

// ---------- titles ----------
const over = d3.select(wrap).append("svg")
  .attr("width", 800).attr("height", 800)
  .style("top", "0px").style("pointer-events", "none")
  .attr("font-family", font).attr("fill", "black");
over.append("text").attr("x", 238.5).attr("y", 48).attr("font-size", 17.5)
  .attr("textLength", 314).attr("lengthAdjust", "spacingAndGlyphs").text(titleLine1);
over.append("text").attr("x", 158.5).attr("y", 66.7).attr("font-size", 17.5)
  .attr("textLength", 483).attr("lengthAdjust", "spacingAndGlyphs").text(titleLine2);
over.append("text").attr("transform", "translate(38.5,231.5) rotate(-90)")
  .attr("text-anchor", "middle").attr("font-size", 15)
  .attr("textLength", 303).attr("lengthAdjust", "spacingAndGlyphs").text(topYTitle);
over.append("text").attr("transform", "translate(49.3,569) rotate(-90)")
  .attr("text-anchor", "middle").attr("font-size", 15.5)
  .attr("textLength", 215).attr("lengthAdjust", "spacingAndGlyphs").text(bottomYTitle);
</script></body></html>
